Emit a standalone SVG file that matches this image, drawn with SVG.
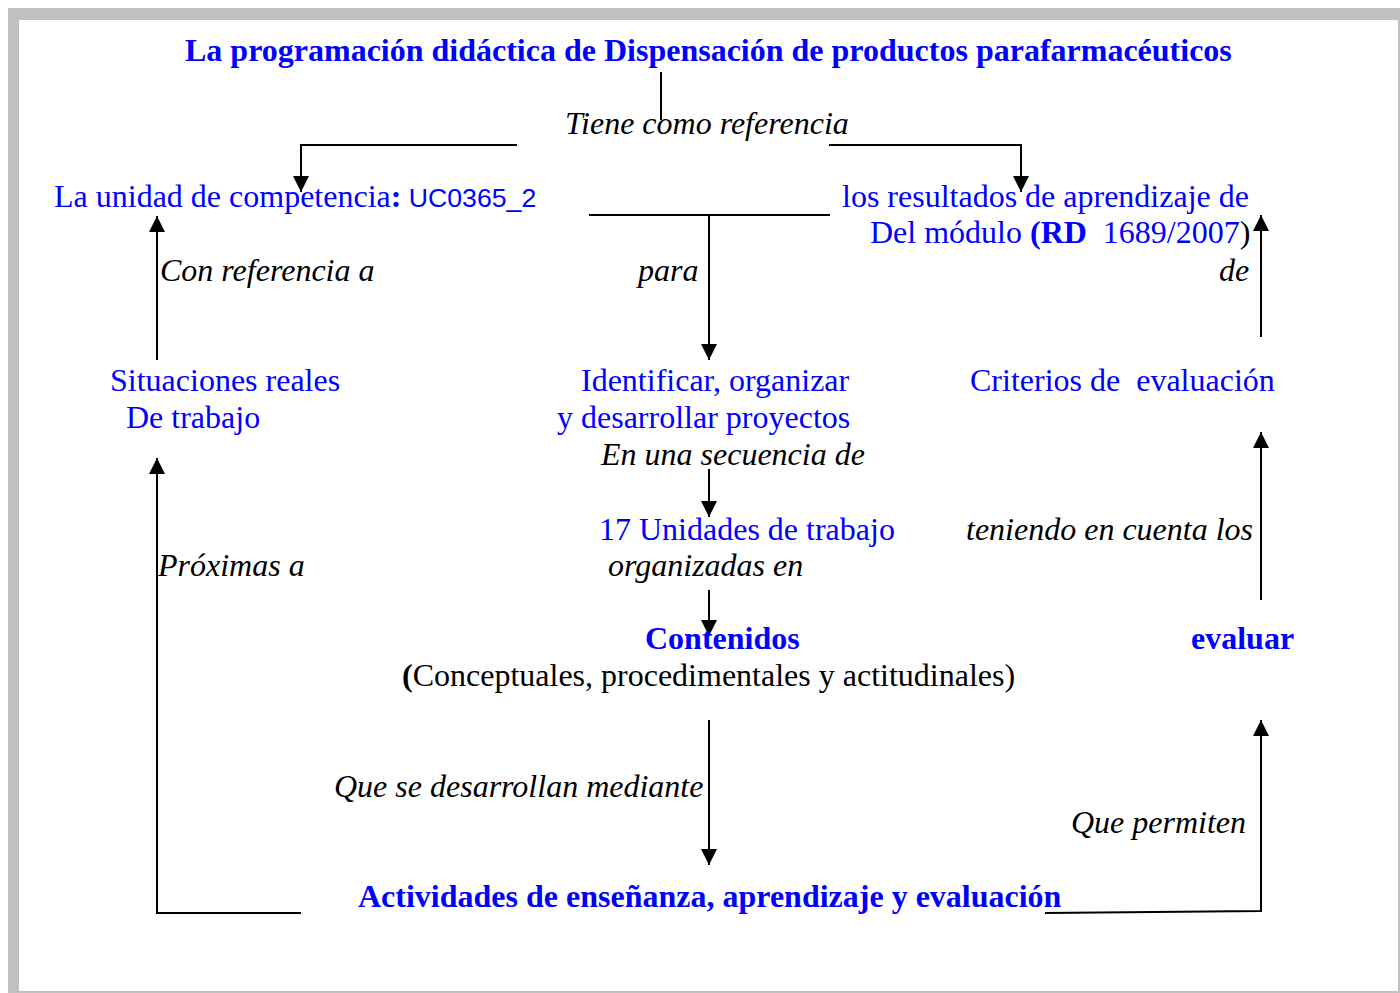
<svg xmlns="http://www.w3.org/2000/svg" width="1400" height="993" viewBox="0 0 1400 993">
<style>
text{font-family:"Liberation Serif","Times New Roman",serif;font-size:32px;white-space:pre}
.n{fill:#0000ff}
.b{font-weight:bold}
.l{fill:#000;font-style:italic}
.k{fill:#000}
.c line,.c polyline{stroke:#000;stroke-width:2;fill:none}
</style>
<defs>
<marker id="ah" viewBox="0 0 16 16" refX="16" refY="8" markerWidth="16" markerHeight="16" orient="auto" markerUnits="userSpaceOnUse">
<path d="M0,0 L16,8 L0,16 z" fill="#000"/>
</marker>
</defs>
<rect x="0" y="0" width="1400" height="993" fill="#ffffff"/>
<rect x="8" y="8" width="1392" height="985" fill="#c0c0c0"/>
<rect x="19" y="20" width="1379" height="971" fill="#ffffff"/>

<g class="c" id="connectors">
<line x1="661" y1="72" x2="661" y2="120"/>
<polyline points="517,145 301,145 301,192" marker-end="url(#ah)"/>
<polyline points="829,145 1021,145 1021,192" marker-end="url(#ah)"/>
<line x1="589" y1="215" x2="830" y2="215"/>
<line x1="709" y1="215" x2="709" y2="360" marker-end="url(#ah)"/>
<line x1="157" y1="360" x2="157" y2="216" marker-end="url(#ah)"/>
<line x1="1261" y1="337" x2="1261" y2="215" marker-end="url(#ah)"/>
<line x1="1261" y1="600" x2="1261" y2="432" marker-end="url(#ah)"/>
<line x1="709" y1="469" x2="709" y2="517" marker-end="url(#ah)"/>
<line x1="709" y1="590" x2="709" y2="636" marker-end="url(#ah)"/>
<line x1="709" y1="720" x2="709" y2="865" marker-end="url(#ah)"/>
<polyline points="301,913 157,913 157,458" marker-end="url(#ah)"/>
<polyline points="1045,913 1261,911 1261,720" marker-end="url(#ah)"/>
</g>

<g id="title"><text class="n b" x="185" y="61">La programación didáctica de Dispensación de productos parafarmacéuticos</text></g>
<g id="lbl-tiene"><text class="l" x="565" y="134">Tiene como referencia</text></g>
<g id="unidad"><text class="n" x="54" y="207">La unidad de competencia<tspan class="b">:</tspan><tspan font-family="Liberation Sans, Arial, sans-serif" font-size="26.67"> UC0365_2</tspan></text></g>
<g id="resultados">
<text class="n" x="842" y="207">los resultados de aprendizaje de</text>
<text class="n" x="870" y="243">Del módulo <tspan class="b">(RD</tspan>  1689/2007<tspan class="k">)</tspan></text>
</g>
<g id="lbl-con"><text class="l" x="160" y="281">Con referencia a</text></g>
<g id="lbl-para"><text class="l" x="638" y="281">para</text></g>
<g id="lbl-de"><text class="l" x="1219" y="281">de</text></g>
<g id="situaciones">
<text class="n" x="110" y="391">Situaciones reales</text>
<text class="n" x="126" y="428">De trabajo</text>
</g>
<g id="identificar">
<text class="n" x="581" y="391">Identificar, organizar</text>
<text class="n" x="557" y="428">y desarrollar proyectos</text>
</g>
<g id="criterios"><text class="n" x="970" y="391">Criterios de  evaluación</text></g>
<g id="lbl-secuencia"><text class="l" x="601" y="465">En una secuencia de</text></g>
<g id="unidades"><text class="n" x="599" y="540">17 Unidades de trabajo</text></g>
<g id="lbl-teniendo"><text class="l" x="966" y="540">teniendo en cuenta los</text></g>
<g id="lbl-proximas"><text class="l" x="158" y="576">Próximas a</text></g>
<g id="lbl-organizadas"><text class="l" x="608" y="576">organizadas en</text></g>
<g id="contenidos">
<text class="n b" x="645" y="649">Contenidos</text>
<text class="k" x="402" y="686"><tspan class="b">(</tspan>Conceptuales, procedimentales y actitudinales)</text>
</g>
<g id="evaluar"><text class="n b" x="1191" y="649">evaluar</text></g>
<g id="lbl-mediante"><text class="l" x="334" y="797">Que se desarrollan mediante</text></g>
<g id="lbl-permiten"><text class="l" x="1071" y="833">Que permiten</text></g>
<g id="actividades"><text class="n b" x="358" y="907">Actividades de enseñanza, aprendizaje y evaluación</text></g>
</svg>
